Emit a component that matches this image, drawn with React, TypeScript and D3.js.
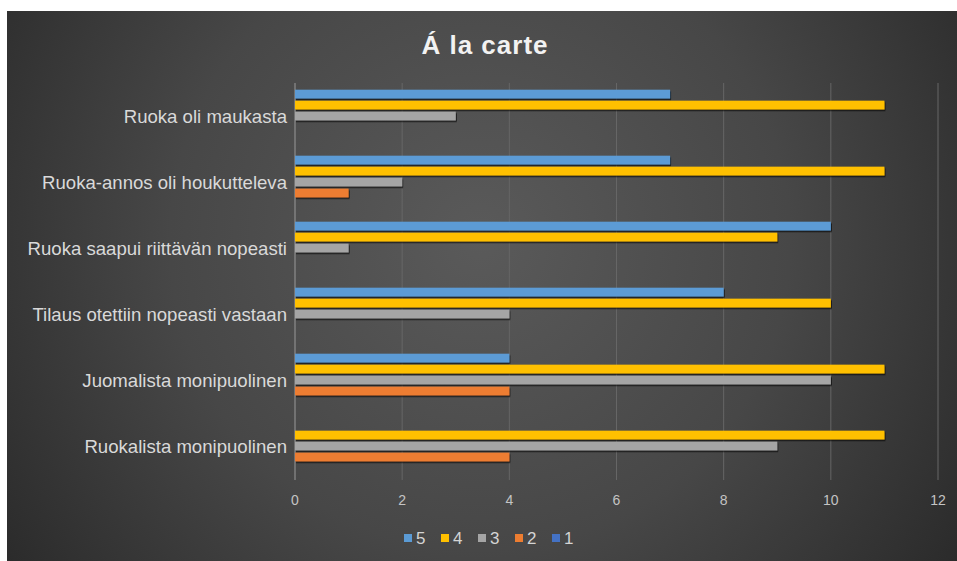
import React from "react";
import * as d3 from "d3";

const title = "Á la carte";
const categories = [
  "Ruoka oli maukasta",
  "Ruoka-annos oli houkutteleva",
  "Ruoka saapui riittävän nopeasti",
  "Tilaus otettiin nopeasti vastaan",
  "Juomalista monipuolinen",
  "Ruokalista monipuolinen",
];
const seriesNames = ["5", "4", "3", "2", "1"];
const values5 = [7, 7, 10, 8, 4, 0];
const values4 = [11, 11, 9, 10, 11, 11];
const values3 = [3, 2, 1, 4, 10, 9];
const values2 = [0, 1, 0, 0, 4, 4];
const values1 = [0, 0, 0, 0, 0, 0];
const seriesValues = [values5, values4, values3, values2, values1];
const seriesColors = ["#5b9bd5", "#ffc000", "#a5a5a5", "#ed7d31", "#4472c4"];
const xTicks = [0, 2, 4, 6, 8, 10, 12];

const W = 957;
const H = 561;
const plot = { left: 295, right: 938, top: 83, bottom: 479 };
const FONT = "'Liberation Sans', Arial, sans-serif";

export default function App() {
  const x = d3.scaleLinear().domain([0, 12]).range([plot.left, plot.right]);
  const y0 = d3.scaleBand<string>().domain(categories).range([plot.top, plot.bottom]).paddingInner(0).paddingOuter(0);
  const bw = y0.bandwidth();
  const y1 = d3.scaleBand<string>().domain(seriesNames).range([4.5, bw - 4.5]).padding(0.2);

  const legendX = d3.scaleBand<string>().domain(seriesNames).range([404, 589]);

  return (
    <svg
      width={W}
      height={H}
      style={{ position: "absolute", left: 0, top: 0, display: "block" }}
      fontFamily={FONT}
    >
      <defs>
        <radialGradient id="bg" gradientUnits="userSpaceOnUse" cx={480} cy={240} r={620}>
          <stop offset="0" stopColor="#5a5a5a" />
          <stop offset="0.5" stopColor="#474747" />
          <stop offset="1" stopColor="#262626" />
        </radialGradient>
        <filter id="sh" x="-5%" y="-50%" width="110%" height="200%">
          <feDropShadow dx={1} dy={1.5} stdDeviation={0.7} floodColor="#000" floodOpacity={0.75} />
        </filter>
      </defs>
      <rect x={0} y={0} width={W} height={H} fill="#ffffff" />
      <rect x={7} y={11} width={W - 7} height={H - 11} fill="url(#bg)" />

      <text x={485} y={54} textAnchor="middle" fill="#f2f2f2" fontSize={26} fontWeight="bold" letterSpacing={1}>
        {title}
      </text>

      {xTicks.map((t) => (
        <line
          key={"g" + t}
          x1={x(t)}
          x2={x(t)}
          y1={plot.top}
          y2={plot.bottom + 1}
          stroke={t === 0 ? "#9a9a9a" : "#666666"}
          strokeWidth={1}
        />
      ))}

      {categories.map((c, ci) => (
        <g key={c} transform={`translate(0,${y0(c)})`}>
          {seriesNames.map((s, si) => {
            const v = seriesValues[si][ci];
            if (!v) return null;
            return (
              <rect
                key={s}
                x={x(0)}
                y={y1(s)}
                width={x(v) - x(0)}
                height={y1.bandwidth()}
                fill={seriesColors[si]}
                filter="url(#sh)"
              />
            );
          })}
          <text
            x={287}
            y={bw / 2}
            dy="0.35em"
            textAnchor="end"
            fill="#d9d9d9"
            fontSize={18.6}
          >
            {c}
          </text>
        </g>
      ))}

      {xTicks.map((t) => (
        <text key={"t" + t} x={x(t)} y={505} textAnchor="middle" fill="#c4c4c4" fontSize={14}>
          {t}
        </text>
      ))}

      {seriesNames.map((s, si) => {
        const lx = legendX(s) as number;
        return (
          <g key={"l" + s} transform={`translate(${lx},0)`}>
            <rect x={0} y={534} width={8} height={8} fill={seriesColors[si]} />
            <text x={12} y={544} fill="#d4d4d4" fontSize={17}>
              {s}
            </text>
          </g>
        );
      })}
    </svg>
  );
}
